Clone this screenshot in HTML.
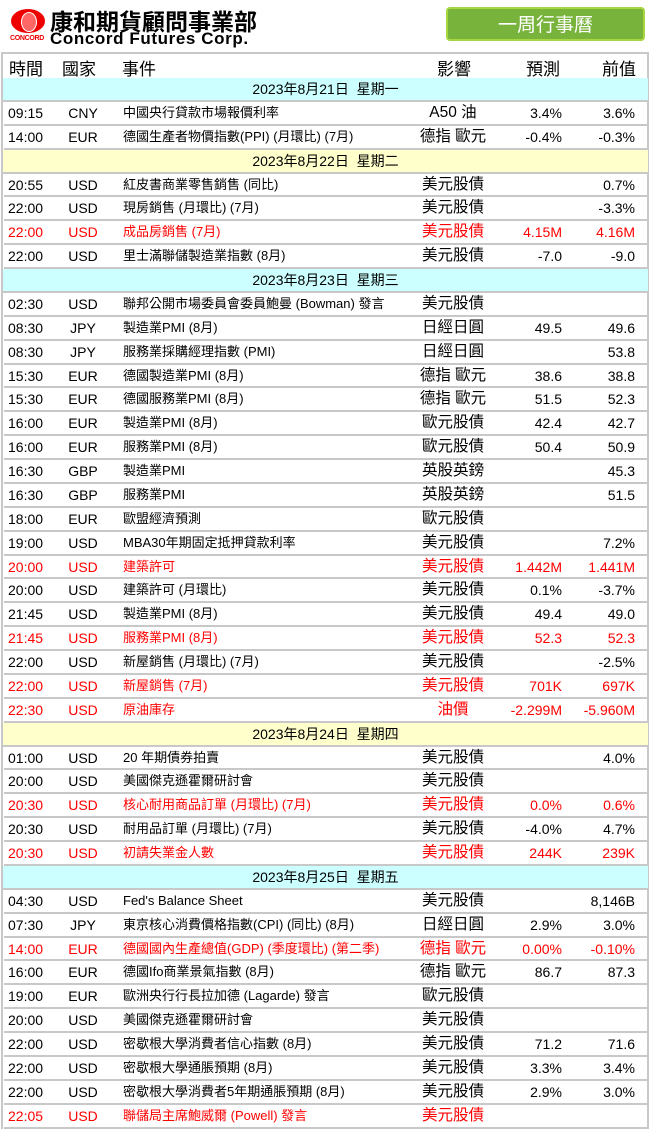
<!DOCTYPE html>
<html><head><meta charset="utf-8">
<style>
*{margin:0;padding:0;box-sizing:border-box}
body{width:651px;height:1131px;background:#fff;font-family:"Liberation Sans","Noto Sans CJK TC",sans-serif;color:#000;position:relative;overflow:hidden}
.logo{position:absolute;left:11px;top:9px;width:34px;height:24px;border-radius:50%;background:#e00;}
.logo:after{content:"";position:absolute;left:10px;top:3px;width:14px;height:18px;border-radius:50%;background:#f66;border:1px solid #fff;}
.cc{position:absolute;left:10px;top:35px;font-size:7px;color:#e00;font-weight:bold;letter-spacing:-.3px}
.t1{position:absolute;left:50px;top:6px;font-size:23px;font-weight:bold;letter-spacing:0px;font-family:"Noto Sans CJK TC",sans-serif;line-height:28px}
.t2{position:absolute;left:50px;top:30px;font-size:17px;font-weight:bold;line-height:17px;letter-spacing:.6px}
.btn{position:absolute;left:446px;top:7px;width:199px;height:34px;border-radius:4px;background:#78b43c;border:2px solid #a8d640;color:#fff;font-size:19px;text-align:center;line-height:30px;font-family:"Noto Sans CJK TC",sans-serif}
.box{position:absolute;left:1px;top:52px;width:648px;height:1077px;border:2px solid #c8c8c8;border-bottom:none}
.hd{position:absolute;left:0;top:52px;width:651px;height:26px;font-size:17px}
.hd span,.r span{position:absolute;white-space:nowrap}
#rows{position:absolute;left:0;top:78px;width:651px}
.r{position:relative;height:23.88px;font-size:14px;line-height:22px;border-bottom:2px solid #c8c8c8;margin:0 4px}
.r span{top:0}
.red{color:#f00}
.d{text-align:center;font-size:14px;line-height:22px;height:23.88px;margin:0 3px;border-bottom:2px solid #c8c8c8}
.c{background:#ccffff}.y{background:#ffffcc}
.a{left:4px}.b{left:59px;width:40px;text-align:center}.e{left:119px;font-size:13px}.i{left:399px;width:100px;text-align:center;font-size:15.5px}.f{right:85px}.p{right:12px}
</style></head><body>
<div class="logo"></div><div class="cc">CONCORD</div>
<div class="t1">康和期貨顧問事業部</div>
<div class="t2">Concord Futures Corp.</div>
<div class="btn">一周行事曆</div>
<div class="box"></div>
<div class="hd"><span style="left:9px;top:3px">時間</span><span style="left:62px;top:3px">國家</span><span style="left:122px;top:3px">事件</span><span style="left:437px;top:3px">影響</span><span style="left:526px;top:3px">預測</span><span style="left:602px;top:3px">前值</span></div>
<div id="rows">
<div class="d c">2023年8月21日&nbsp; 星期一</div>
<div class="r"><span class="a">09:15</span><span class="b">CNY</span><span class="e">中國央行貸款市場報價利率</span><span class="i">A50 油</span><span class="f">3.4%</span><span class="p">3.6%</span></div>
<div class="r"><span class="a">14:00</span><span class="b">EUR</span><span class="e">德國生產者物價指數(PPI) (月環比) (7月)</span><span class="i">德指 歐元</span><span class="f">-0.4%</span><span class="p">-0.3%</span></div>
<div class="d y">2023年8月22日&nbsp; 星期二</div>
<div class="r"><span class="a">20:55</span><span class="b">USD</span><span class="e">紅皮書商業零售銷售 (同比)</span><span class="i">美元股債</span><span class="f"></span><span class="p">0.7%</span></div>
<div class="r"><span class="a">22:00</span><span class="b">USD</span><span class="e">現房銷售 (月環比) (7月)</span><span class="i">美元股債</span><span class="f"></span><span class="p">-3.3%</span></div>
<div class="r red"><span class="a">22:00</span><span class="b">USD</span><span class="e">成品房銷售 (7月)</span><span class="i">美元股債</span><span class="f">4.15M</span><span class="p">4.16M</span></div>
<div class="r"><span class="a">22:00</span><span class="b">USD</span><span class="e">里士滿聯儲製造業指數 (8月)</span><span class="i">美元股債</span><span class="f">-7.0</span><span class="p">-9.0</span></div>
<div class="d c">2023年8月23日&nbsp; 星期三</div>
<div class="r"><span class="a">02:30</span><span class="b">USD</span><span class="e">聯邦公開市場委員會委員鮑曼 (Bowman) 發言</span><span class="i">美元股債</span></div>
<div class="r"><span class="a">08:30</span><span class="b">JPY</span><span class="e">製造業PMI (8月)</span><span class="i">日經日圓</span><span class="f">49.5</span><span class="p">49.6</span></div>
<div class="r"><span class="a">08:30</span><span class="b">JPY</span><span class="e">服務業採購經理指數 (PMI)</span><span class="i">日經日圓</span><span class="p">53.8</span></div>
<div class="r"><span class="a">15:30</span><span class="b">EUR</span><span class="e">德國製造業PMI (8月)</span><span class="i">德指 歐元</span><span class="f">38.6</span><span class="p">38.8</span></div>
<div class="r"><span class="a">15:30</span><span class="b">EUR</span><span class="e">德國服務業PMI (8月)</span><span class="i">德指 歐元</span><span class="f">51.5</span><span class="p">52.3</span></div>
<div class="r"><span class="a">16:00</span><span class="b">EUR</span><span class="e">製造業PMI (8月)</span><span class="i">歐元股債</span><span class="f">42.4</span><span class="p">42.7</span></div>
<div class="r"><span class="a">16:00</span><span class="b">EUR</span><span class="e">服務業PMI (8月)</span><span class="i">歐元股債</span><span class="f">50.4</span><span class="p">50.9</span></div>
<div class="r"><span class="a">16:30</span><span class="b">GBP</span><span class="e">製造業PMI</span><span class="i">英股英鎊</span><span class="p">45.3</span></div>
<div class="r"><span class="a">16:30</span><span class="b">GBP</span><span class="e">服務業PMI</span><span class="i">英股英鎊</span><span class="p">51.5</span></div>
<div class="r"><span class="a">18:00</span><span class="b">EUR</span><span class="e">歐盟經濟預測</span><span class="i">歐元股債</span></div>
<div class="r"><span class="a">19:00</span><span class="b">USD</span><span class="e">MBA30年期固定抵押貸款利率</span><span class="i">美元股債</span><span class="p">7.2%</span></div>
<div class="r red"><span class="a">20:00</span><span class="b">USD</span><span class="e">建築許可</span><span class="i">美元股債</span><span class="f">1.442M</span><span class="p">1.441M</span></div>
<div class="r"><span class="a">20:00</span><span class="b">USD</span><span class="e">建築許可 (月環比)</span><span class="i">美元股債</span><span class="f">0.1%</span><span class="p">-3.7%</span></div>
<div class="r"><span class="a">21:45</span><span class="b">USD</span><span class="e">製造業PMI (8月)</span><span class="i">美元股債</span><span class="f">49.4</span><span class="p">49.0</span></div>
<div class="r red"><span class="a">21:45</span><span class="b">USD</span><span class="e">服務業PMI (8月)</span><span class="i">美元股債</span><span class="f">52.3</span><span class="p">52.3</span></div>
<div class="r"><span class="a">22:00</span><span class="b">USD</span><span class="e">新屋銷售 (月環比) (7月)</span><span class="i">美元股債</span><span class="p">-2.5%</span></div>
<div class="r red"><span class="a">22:00</span><span class="b">USD</span><span class="e">新屋銷售 (7月)</span><span class="i">美元股債</span><span class="f">701K</span><span class="p">697K</span></div>
<div class="r red"><span class="a">22:30</span><span class="b">USD</span><span class="e">原油庫存</span><span class="i">油價</span><span class="f">-2.299M</span><span class="p">-5.960M</span></div>
<div class="d y">2023年8月24日&nbsp; 星期四</div>
<div class="r"><span class="a">01:00</span><span class="b">USD</span><span class="e">20 年期債券拍賣</span><span class="i">美元股債</span><span class="p">4.0%</span></div>
<div class="r"><span class="a">20:00</span><span class="b">USD</span><span class="e">美國傑克遜霍爾研討會</span><span class="i">美元股債</span></div>
<div class="r red"><span class="a">20:30</span><span class="b">USD</span><span class="e">核心耐用商品訂單 (月環比) (7月)</span><span class="i">美元股債</span><span class="f">0.0%</span><span class="p">0.6%</span></div>
<div class="r"><span class="a">20:30</span><span class="b">USD</span><span class="e">耐用品訂單 (月環比) (7月)</span><span class="i">美元股債</span><span class="f">-4.0%</span><span class="p">4.7%</span></div>
<div class="r red"><span class="a">20:30</span><span class="b">USD</span><span class="e">初請失業金人數</span><span class="i">美元股債</span><span class="f">244K</span><span class="p">239K</span></div>
<div class="d c">2023年8月25日&nbsp; 星期五</div>
<div class="r"><span class="a">04:30</span><span class="b">USD</span><span class="e">Fed's Balance Sheet</span><span class="i">美元股債</span><span class="p">8,146B</span></div>
<div class="r"><span class="a">07:30</span><span class="b">JPY</span><span class="e">東京核心消費價格指數(CPI) (同比) (8月)</span><span class="i">日經日圓</span><span class="f">2.9%</span><span class="p">3.0%</span></div>
<div class="r red"><span class="a">14:00</span><span class="b">EUR</span><span class="e">德國國內生產總值(GDP) (季度環比) (第二季)</span><span class="i">德指 歐元</span><span class="f">0.00%</span><span class="p">-0.10%</span></div>
<div class="r"><span class="a">16:00</span><span class="b">EUR</span><span class="e">德國Ifo商業景氣指數 (8月)</span><span class="i">德指 歐元</span><span class="f">86.7</span><span class="p">87.3</span></div>
<div class="r"><span class="a">19:00</span><span class="b">EUR</span><span class="e">歐洲央行行長拉加德 (Lagarde) 發言</span><span class="i">歐元股債</span></div>
<div class="r"><span class="a">20:00</span><span class="b">USD</span><span class="e">美國傑克遜霍爾研討會</span><span class="i">美元股債</span></div>
<div class="r"><span class="a">22:00</span><span class="b">USD</span><span class="e">密歇根大學消費者信心指數 (8月)</span><span class="i">美元股債</span><span class="f">71.2</span><span class="p">71.6</span></div>
<div class="r"><span class="a">22:00</span><span class="b">USD</span><span class="e">密歇根大學通脹預期 (8月)</span><span class="i">美元股債</span><span class="f">3.3%</span><span class="p">3.4%</span></div>
<div class="r"><span class="a">22:00</span><span class="b">USD</span><span class="e">密歇根大學消費者5年期通脹預期 (8月)</span><span class="i">美元股債</span><span class="f">2.9%</span><span class="p">3.0%</span></div>
<div class="r red"><span class="a">22:05</span><span class="b">USD</span><span class="e">聯儲局主席鮑威爾 (Powell) 發言</span><span class="i">美元股債</span></div>
</div>
</body></html>
